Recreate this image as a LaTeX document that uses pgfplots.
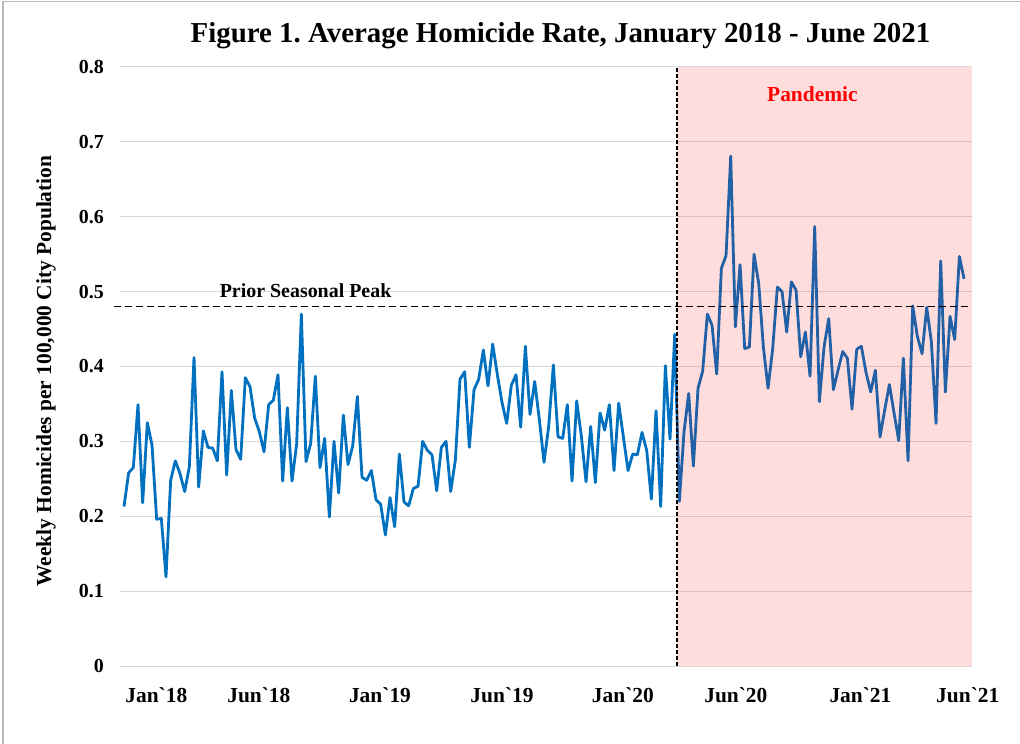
\documentclass[border=0pt]{standalone}
\usepackage{fontspec}
\setmainfont{Liberation Serif}
\newfontfamily\gravefont{Liberation Serif}[Ligatures=TeXOff]
\newcommand{\gr}{{\gravefont\bfseries`}}
\usepackage{pgfplots}
\pgfplotsset{compat=1.18}
\usepackage{pgfplotstable}
\definecolor{lineblue}{RGB}{0,112,192}
\definecolor{gridgray}{RGB}{217,217,217}
\definecolor{framegray}{RGB}{185,185,190}
\definecolor{pandred}{RGB}{255,0,0}

\pgfplotstableread{
w v
0 0.213
1 0.258
2 0.265
3 0.349
4 0.218
5 0.325
6 0.295
7 0.196
8 0.197
9 0.119
10 0.248
11 0.274
12 0.257
13 0.233
14 0.266
15 0.412
16 0.239
17 0.314
18 0.292
19 0.291
20 0.274
21 0.393
22 0.255
23 0.368
24 0.289
25 0.276
26 0.385
27 0.373
28 0.331
29 0.313
30 0.286
31 0.349
32 0.355
33 0.389
34 0.247
35 0.345
36 0.247
37 0.297
38 0.470
39 0.273
40 0.297
41 0.387
42 0.265
43 0.304
44 0.199
45 0.300
46 0.231
47 0.335
48 0.269
49 0.294
50 0.360
51 0.252
52 0.248
53 0.261
54 0.222
55 0.216
56 0.175
57 0.225
58 0.186
59 0.283
60 0.219
61 0.214
62 0.237
63 0.240
64 0.300
65 0.288
66 0.282
67 0.234
68 0.292
69 0.300
70 0.233
71 0.275
72 0.383
73 0.393
74 0.292
75 0.369
76 0.383
77 0.422
78 0.374
79 0.430
80 0.389
81 0.352
82 0.324
83 0.375
84 0.389
85 0.319
86 0.427
87 0.336
88 0.380
89 0.329
90 0.272
91 0.320
92 0.402
93 0.306
94 0.304
95 0.349
96 0.247
97 0.354
98 0.307
99 0.246
100 0.320
101 0.245
102 0.338
103 0.315
104 0.349
105 0.261
106 0.351
107 0.306
108 0.261
109 0.283
110 0.282
111 0.312
112 0.288
113 0.223
114 0.341
115 0.213
116 0.401
117 0.303
118 0.443
119 0.220
120 0.313
121 0.364
122 0.267
123 0.371
124 0.394
125 0.470
126 0.455
127 0.390
128 0.531
129 0.548
130 0.681
131 0.453
132 0.536
133 0.424
134 0.426
135 0.550
136 0.511
137 0.426
138 0.371
139 0.424
140 0.506
141 0.500
142 0.446
143 0.513
144 0.502
145 0.413
146 0.446
147 0.387
148 0.587
149 0.353
150 0.426
151 0.464
152 0.369
153 0.395
154 0.420
155 0.411
156 0.343
157 0.423
158 0.427
159 0.392
160 0.366
161 0.395
162 0.306
163 0.342
164 0.376
165 0.338
166 0.301
167 0.411
168 0.274
169 0.481
170 0.440
171 0.417
172 0.479
173 0.433
174 0.324
175 0.541
176 0.366
177 0.467
178 0.436
179 0.547
180 0.517
}\homicide

\begin{document}
\frenchspacing
\begin{tikzpicture}
\path[use as bounding box, fill=white] (-120bp,-78bp) rectangle (900bp,666bp);
\draw[framegray, line width=1.5bp] (-117bp,-78bp) -- (-117bp,664.5bp) -- (900bp,664.5bp);
\begin{axis}[
  at={(0bp,0bp)}, anchor=south west,
  scale only axis, width=851.7bp, height=599bp,
  xmin=-0.857, xmax=181.64, ymin=0, ymax=0.8,
  clip=false,
  axis line style={draw=none},
  major tick length=0pt,
  ymajorgrids, grid style={gridgray, line width=1bp},
  ytick={0,0.1,0.2,0.3,0.4,0.5,0.6,0.7,0.8},
  yticklabels={0,0.1,0.2,0.3,0.4,0.5,0.6,0.7,0.8},
  xtick={6.93,28.9,54.85,81.0,106.9,131.1,157.8,180.8},
  xticklabels={Jan\gr18,Jun\gr18,Jan\gr19,Jun\gr19,Jan\gr20,Jun\gr20,Jan\gr21,Jun\gr21},
  yticklabel style={inner sep=0pt, anchor=east, xshift=-16bp, font=\bfseries\fontsize{20}{20}\selectfont},
  xticklabel style={inner sep=0pt, anchor=base, yshift=-36bp, font=\bfseries\fontsize{21.5}{21.5}\selectfont},
]
\addplot[lineblue, line width=2.8bp, line join=round] table[x=w, y=v] {\homicide};
\addplot[draw=none, fill=pandred, fill opacity=0.135] coordinates {(118.5,0) (118.5,0.8) (181.64,0.8) (181.64,0)} -- cycle;
\addplot[black, line width=1.7bp, dash pattern=on 7bp off 4bp] coordinates {(-2.2,0.48) (181.64,0.48)};
\addplot[black, line width=1.6bp, dash pattern=on 4bp off 2bp] coordinates {(118.5,0) (118.5,0.8)};
\node[anchor=base, font=\bfseries\fontsize{20}{20}\selectfont, inner sep=0pt] at (axis cs:38.9,0.492) {Prior Seasonal Peak};
\node[anchor=base, font=\bfseries\fontsize{21.5}{21.5}\selectfont, text=pandred, inner sep=0pt] at (axis cs:147.5,0.754) {Pandemic};
\end{axis}
\node[anchor=base, font=\bfseries\fontsize{29}{29}\selectfont, inner sep=0pt] at (440.5bp,623bp) {Figure 1. Average Homicide Rate, January 2018 - June 2021};
\node[rotate=90, anchor=center, font=\bfseries\fontsize{21.5}{21.5}\selectfont, inner sep=0pt] at (-74bp,295bp) {Weekly Homicides per 100,000 City Population};
\end{tikzpicture}
\end{document}
